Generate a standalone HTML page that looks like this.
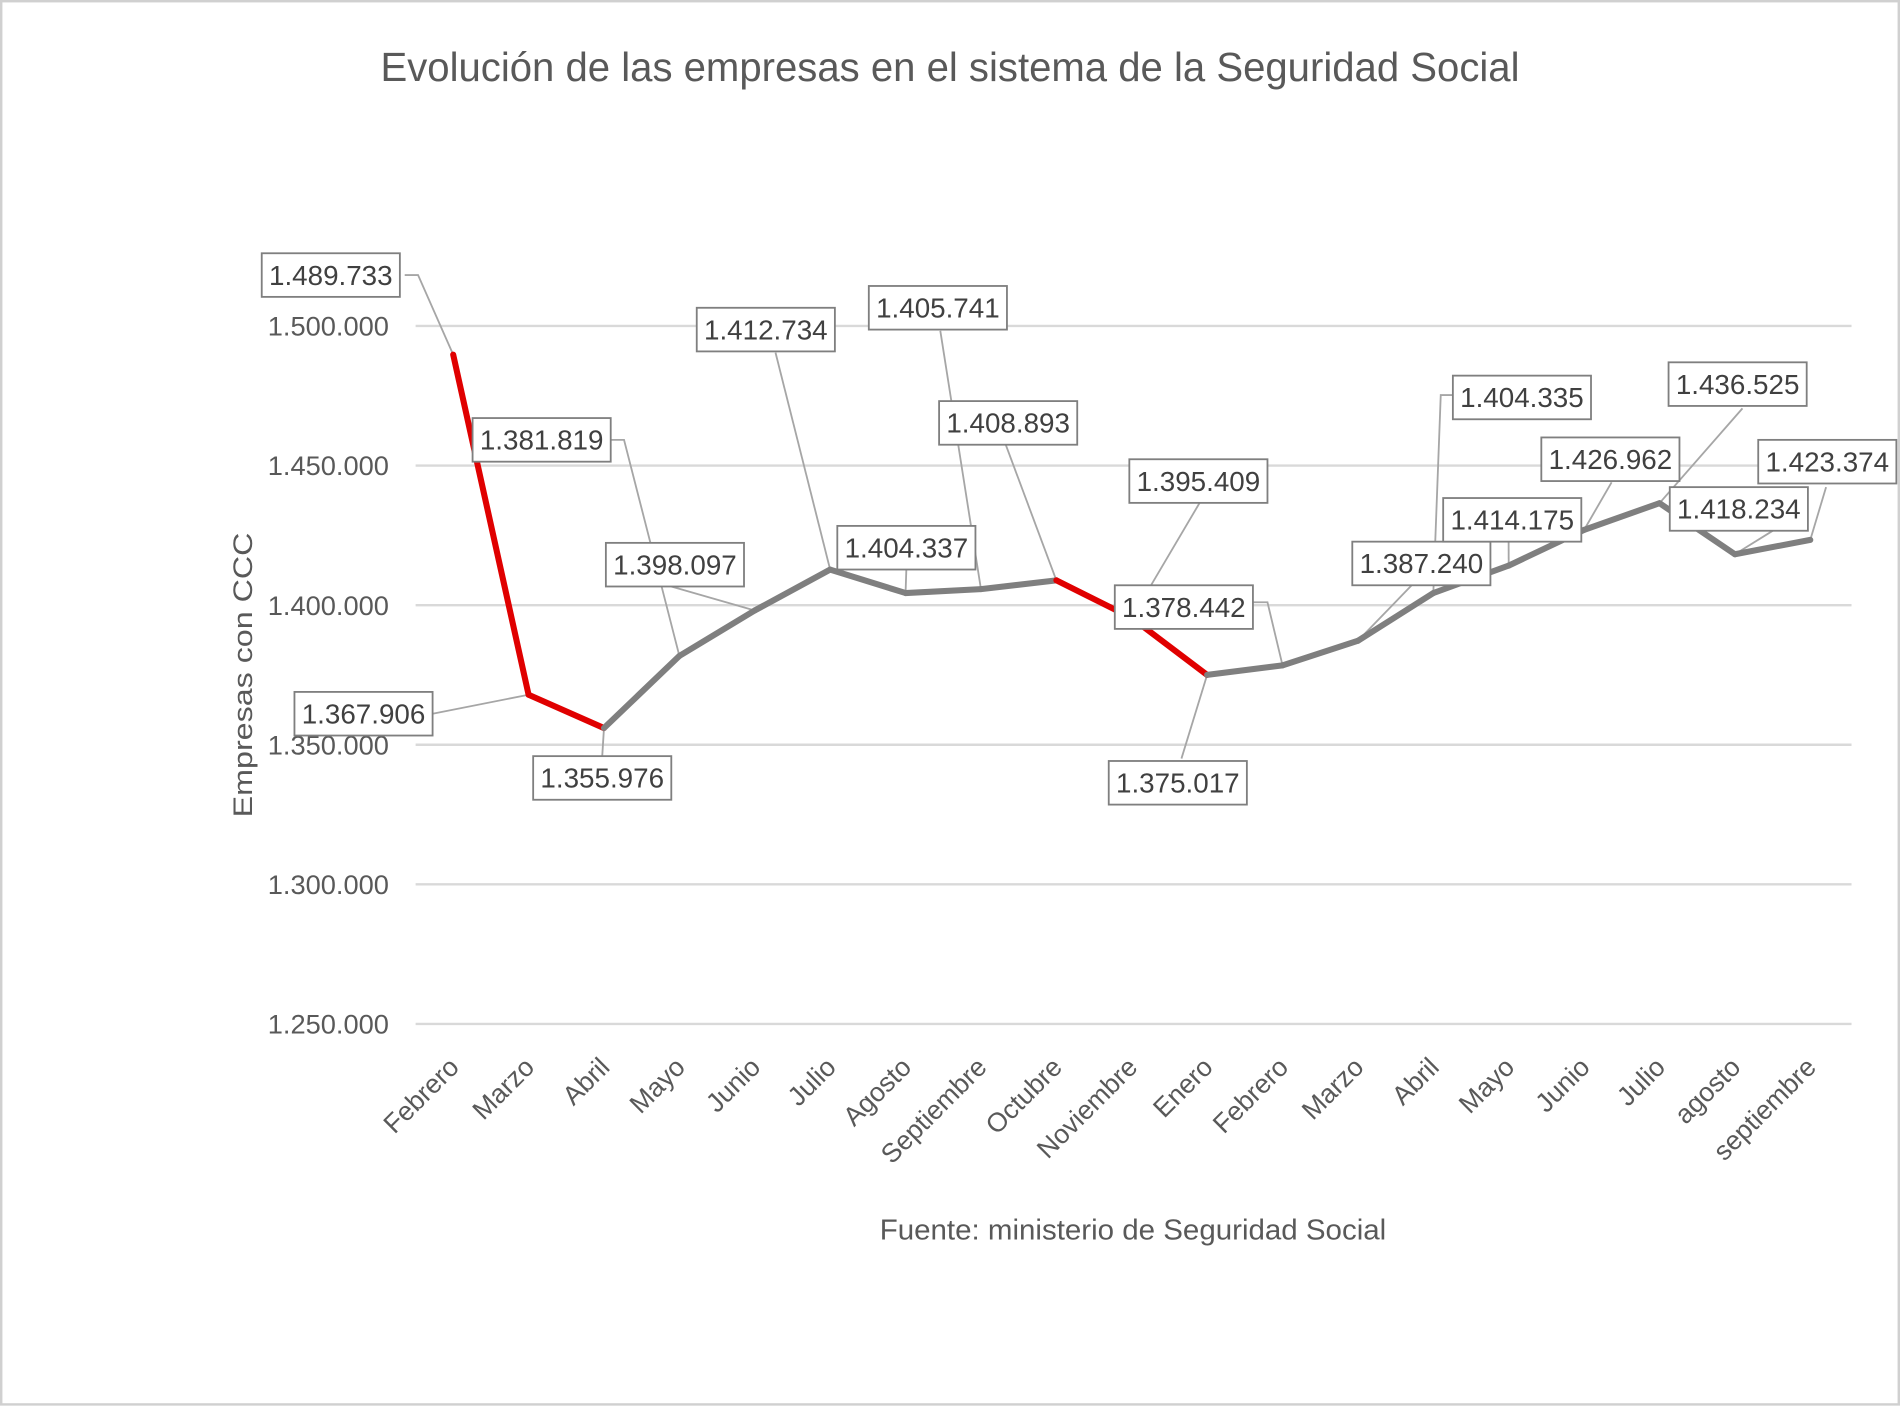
<!DOCTYPE html>
<html><head><meta charset="utf-8"><style>
html,body{margin:0;padding:0;background:#fff;}
svg{display:block;}
text{font-family:"Liberation Sans",sans-serif;}
</style></head><body>
<svg id="chart" width="1900" height="1406" viewBox="0 0 1568 1160.3" preserveAspectRatio="none" xmlns="http://www.w3.org/2000/svg">
<rect x="1" y="1" width="1566" height="1158" fill="#fff" stroke="#d0d0d0" stroke-width="2"/>
<text x="784" y="67" text-anchor="middle" font-size="34" fill="#595959" textLength="940" lengthAdjust="spacingAndGlyphs">Evolución de las empresas en el sistema de la Seguridad Social</text>
<text transform="translate(208,557) rotate(-90)" text-anchor="middle" font-size="22" fill="#595959" textLength="235" lengthAdjust="spacingAndGlyphs">Empresas con CCC</text>
<text x="935" y="1023" text-anchor="middle" font-size="24" fill="#595959" textLength="418" lengthAdjust="spacingAndGlyphs">Fuente: ministerio de Seguridad Social</text>
<g id="grid"></g><g id="xlabels"></g><g id="leaders"></g><g id="lines"></g><g id="labels"></g>
</svg>
<script>
const categories=["Febrero","Marzo","Abril","Mayo","Junio","Julio","Agosto","Septiembre","Octubre","Noviembre","Enero","Febrero","Marzo","Abril","Mayo","Junio","Julio","agosto","septiembre"];
const values=[1489733,1367906,1355976,1381819,1398097,1412734,1404337,1405741,1408893,1395409,1375017,1378442,1387240,1404335,1414175,1426962,1436525,1418234,1423374];
const valueLabels=["1.489.733","1.367.906","1.355.976","1.381.819","1.398.097","1.412.734","1.404.337","1.405.741","1.408.893","1.395.409","1.375.017","1.378.442","1.387.240","1.404.335","1.414.175","1.426.962","1.436.525","1.418.234","1.423.374"];
const redSegments=[0,1,8,9];
const yTicks=[1250000,1300000,1350000,1400000,1450000,1500000];
const yTickLabels=["1.250.000","1.300.000","1.350.000","1.400.000","1.450.000","1.500.000"];
// label box layout: [centerX, centerY, leader path relative anchors]
const boxLayout=[[273,227,[[334,227],[345,227]]],[300,589,[[357,589]]],[497,642,[[497,624]]],[447,363,[[504,363],[515,363]]],[557,466,[[554,484]]],[632,272,[[640,291]]],[748,452,[[748,469]]],[774,254,[[776,273]]],[832,349,[[830,367]]],[989,397,[[990,415]]],[972,646,[[975,626]]],[977,501,[[1034,497],[1046,497]]],[1173,465,[[1165,483]]],[1256,328,[[1199,326],[1189,326]]],[1248,429,[[1245,447]]],[1329,379,[[1330,398]]],[1434,317,[[1438,337]]],[1435,420,[[1492,420]]],[1508,381,[[1507,402]]]];
const NS="http://www.w3.org/2000/svg";
const x0=374,dx=62.22,yTop=269,yMax=1500000,pxPer=115.2/50000;
const X=i=>x0+i*dx, Y=v=>yTop+(yMax-v)*pxPer;
function mk(tag,attrs,parent){const e=document.createElementNS(NS,tag);for(const k in attrs)e.setAttribute(k,attrs[k]);document.getElementById(parent).appendChild(e);return e;}
yTicks.forEach((t,i)=>{
 const l=mk('line',{x1:343,x2:1528,y1:Y(t),y2:Y(t),stroke:'#d9d9d9','stroke-width':2},'grid');
 
 
 const tx=mk('text',{x:321,y:Y(t)+8,'text-anchor':'end','font-size':22,fill:'#595959',textLength:100,lengthAdjust:'spacingAndGlyphs'},'grid');
 tx.textContent=yTickLabels[i];
 
 
});
categories.forEach((c,i)=>{
 const t=mk('text',{transform:`translate(${X(i)+6},882) rotate(-45)`,'text-anchor':'end','font-size':22,fill:'#595959'},'xlabels');
 t.textContent=c;
 
 
});
for(let i=0;i<values.length-1;i++){
 const red=redSegments.includes(i);
 const s=mk('line',{x1:X(i),y1:Y(values[i]),x2:X(i+1),y2:Y(values[i+1]),stroke:red?'#e00000':'#7f7f7f','stroke-width':5,'stroke-linecap':'round'},'lines');
 
 
}
values.forEach((v,i)=>{
 const [cx,cy,pts]=boxLayout[i];
 const all=pts.concat([[X(i),Y(v)]]);
 const p=mk('polyline',{points:all.map(q=>q.join(',')).join(' '),fill:'none',stroke:'#a6a6a6','stroke-width':1.5},'leaders');
 
 
 const r=mk('rect',{x:cx-57,y:cy-18,width:114,height:36,fill:'#fff',stroke:'#7f7f7f','stroke-width':1.5},'labels');
 
 
 const t=mk('text',{x:cx,y:cy+8,'text-anchor':'middle','font-size':23,fill:'#404040',textLength:102,lengthAdjust:'spacingAndGlyphs'},'labels');
 t.textContent=valueLabels[i];
 
 
});
</script>
</body></html>
